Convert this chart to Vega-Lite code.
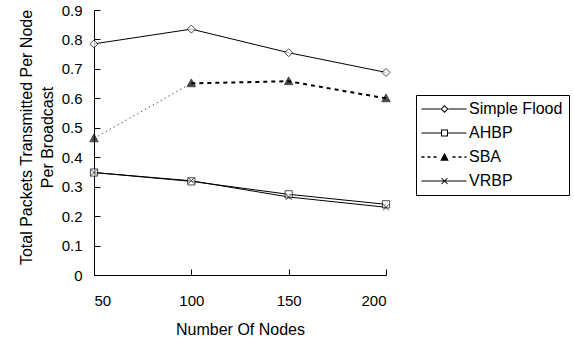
{
  "$schema": "https://vega.github.io/schema/vega-lite/v6.json",
  "width": 292,
  "height": 265,
  "autosize": {"type": "none"},
  "padding": {"left": 94, "top": 10, "right": 188, "bottom": 63},
  "background": "white",
  "config": {
    "view": {"stroke": null},
    "font": "Liberation Sans",
    "axis": {
      "grid": false,
      "domainColor": "black",
      "domainWidth": 1,
      "tickColor": "black",
      "tickWidth": 1,
      "tickSize": -6,
      "labelColor": "black",
      "labelFont": "Liberation Sans",
      "labelFontSize": 15,
      "titleColor": "black",
      "titleFont": "Liberation Sans",
      "titleFontSize": 16,
      "titleFontWeight": "normal"
    }
  },
  "data": {
    "values": [
      {"nodes": 50, "series": "Simple Flood", "value": 0.785},
      {"nodes": 100, "series": "Simple Flood", "value": 0.835},
      {"nodes": 150, "series": "Simple Flood", "value": 0.755},
      {"nodes": 200, "series": "Simple Flood", "value": 0.688},
      {"nodes": 50, "series": "AHBP", "value": 0.348},
      {"nodes": 100, "series": "AHBP", "value": 0.318},
      {"nodes": 150, "series": "AHBP", "value": 0.274},
      {"nodes": 200, "series": "AHBP", "value": 0.240},
      {"nodes": 50, "series": "SBA", "value": 0.464},
      {"nodes": 100, "series": "SBA", "value": 0.651},
      {"nodes": 150, "series": "SBA", "value": 0.658},
      {"nodes": 200, "series": "SBA", "value": 0.600},
      {"nodes": 50, "series": "VRBP", "value": 0.348},
      {"nodes": 100, "series": "VRBP", "value": 0.320},
      {"nodes": 150, "series": "VRBP", "value": 0.265},
      {"nodes": 200, "series": "VRBP", "value": 0.230}
    ]
  },
  "encoding": {
    "x": {
      "field": "nodes",
      "type": "quantitative",
      "scale": {"domain": [50, 200], "nice": false, "zero": false},
      "axis": {"values": [50, 100, 150, 200], "format": "d", "labelPadding": 24, "title": "Number Of Nodes", "titlePadding": 13}
    },
    "y": {
      "field": "value",
      "type": "quantitative",
      "scale": {"domain": [0, 0.9], "nice": false},
      "axis": {"values": [0, 0.1, 0.2, 0.3, 0.4, 0.5, 0.6, 0.7, 0.8, 0.9], "format": "~g", "labelPadding": 18, "title": ["Total Packets Transmitted Per Node", "Per Broadcast"], "titleLineHeight": 21, "titlePadding": 6, "titleY": 127}
    }
  },
  "layer": [
    {
      "transform": [{"filter": "datum.series !== 'SBA'"}],
      "mark": {"type": "line", "stroke": "black", "strokeWidth": 1},
      "encoding": {"detail": {"field": "series"}}
    },
    {
      "transform": [{"filter": "datum.series === 'SBA' && datum.nodes >= 100"}],
      "mark": {"type": "line", "stroke": "black", "strokeWidth": 2, "strokeDash": [4, 4]},
      "encoding": {}
    },
    {
      "transform": [{"filter": "datum.series === 'SBA' && datum.nodes <= 100"}],
      "mark": {"type": "line", "stroke": "#555555", "strokeWidth": 1, "strokeDash": [1.5, 3]},
      "encoding": {}
    },
    {
      "transform": [{"filter": "datum.series !== 'SBA'"}],
      "mark": {"type": "point", "stroke": "black", "fill": "white", "filled": true, "strokeWidth": 1, "size": 64},
      "encoding": {
        "shape": {
          "field": "series",
          "type": "nominal",
          "scale": {
            "domain": ["Simple Flood", "AHBP", "SBA", "VRBP"],
            "range": ["M0,-1L1,0L0,1L-1,0Z", "M-0.9,-0.9L0.9,-0.9L0.9,0.9L-0.9,0.9Z", "M0,-1.1L1.05,0.85L-1.05,0.85Z", "M-0.75,-0.75L0.75,0.75M-0.75,0.75L0.75,-0.75"]
          },
          "legend": null
        }
      }
    },
    {
      "transform": [{"filter": "datum.series === 'SBA'"}],
      "mark": {"type": "point", "shape": "M0,-1.1L1.05,0.85L-1.05,0.85Z", "stroke": "black", "fill": "black", "filled": true, "strokeWidth": 1, "size": 64},
      "encoding": {}
    },
    {
      "transform": [{"filter": "false"}],
      "mark": {"type": "point", "fill": "black", "filled": true, "strokeWidth": 0, "size": 100},
      "encoding": {
        "shape": {
          "field": "series",
          "type": "nominal",
          "scale": {
            "domain": ["Simple Flood", "AHBP", "SBA", "VRBP"],
            "range": [
              "M-1.7,-0.1L2.1,-0.1L2.1,0.1L-1.7,0.1ZM3.7,-0.1L7.3,-0.1L7.3,0.1L3.7,0.1ZM2.9,-0.8L3.7,0L2.9,0.8L2.1,0ZM2.9,-0.52L2.38,0L2.9,0.52L3.42,0Z",
              "M-1.7,-0.1L2.2,-0.1L2.2,0.1L-1.7,0.1ZM3.6,-0.1L7.3,-0.1L7.3,0.1L3.6,0.1ZM2.2,-0.7L3.6,-0.7L3.6,0.7L2.2,0.7ZM2.4,-0.5L2.4,0.5L3.4,0.5L3.4,-0.5Z",
              "M-1.7,-0.15L-1.1,-0.15L-1.1,0.15L-1.7,0.15ZM-0.5,-0.15L0.1,-0.15L0.1,0.15L-0.5,0.15ZM0.7,-0.15L1.3,-0.15L1.3,0.15L0.7,0.15ZM4.5,-0.15L5.1,-0.15L5.1,0.15L4.5,0.15ZM5.7,-0.15L6.3,-0.15L6.3,0.15L5.7,0.15ZM6.9,-0.15L7.3,-0.15L7.3,0.15L6.9,0.15ZM2.9,-0.85L3.75,0.75L2.05,0.75Z",
              "M-1.7,-0.1L7.3,-0.1L7.3,0.1L-1.7,0.1ZM2.37,-0.67L3.57,0.53L3.43,0.67L2.23,-0.53ZM2.23,0.53L3.43,-0.67L3.57,-0.53L2.37,0.67Z"
            ]
          },
          "legend": {
            "title": null,
            "orient": "none",
            "legendX": 322,
            "legendY": 85,
            "strokeColor": "black",
            "padding": 6,
            "symbolSize": 100,
            "symbolFillColor": "black",
            "symbolStrokeWidth": 0,
            "symbolOpacity": 1,
            "labelOffset": 31,
            "rowPadding": 8,
            "labelFont": "Liberation Sans",
            "labelFontSize": 16,
            "labelColor": "black"
          }
        }
      }
    }
  ],
  "resolve": {"scale": {"shape": "independent"}, "legend": {"shape": "independent"}}
}
